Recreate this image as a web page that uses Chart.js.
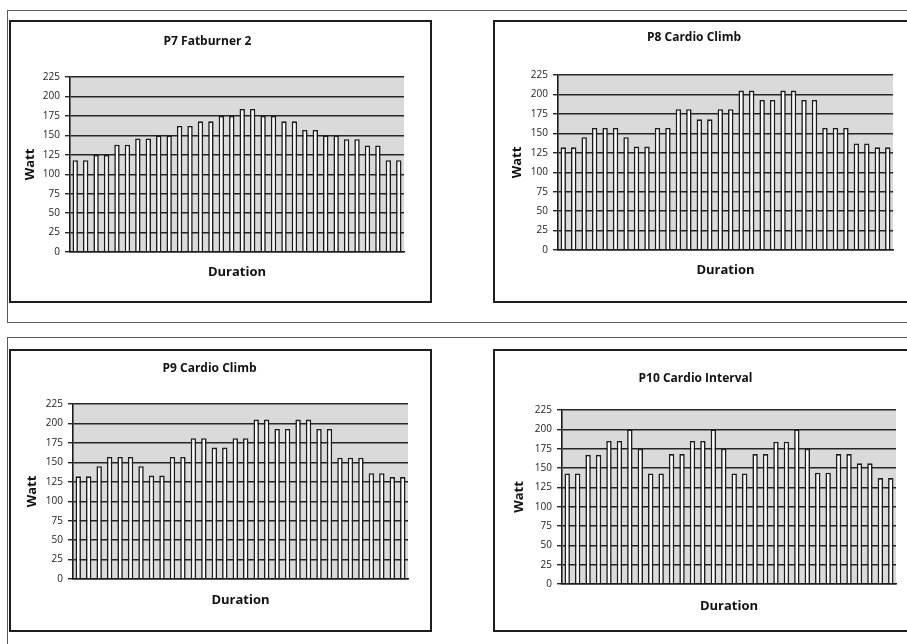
<!DOCTYPE html>
<html><head><meta charset="utf-8">
<script src="https://cdn.jsdelivr.net/npm/chart.js@4"></script>
<style>
html,body{margin:0;padding:0;background:#fff;width:907px;height:644px;overflow:hidden;}
body{position:relative;}
.frame{position:absolute;border:1px solid #5a5a5a;border-right:none;box-sizing:border-box;}
.box{position:absolute;border:2px solid #1e1e1e;box-sizing:border-box;background:#fff;}
.box canvas{position:absolute;left:0;top:0;}
</style></head><body>
<div class="frame" style="left:7px;top:10px;width:920px;height:313px"></div>
<div class="frame" style="left:7px;top:337px;width:920px;height:330px"></div>
<div class="box" style="left:9px;top:20px;width:423px;height:283px"><canvas id="c1"></canvas></div>
<div class="box" style="left:493px;top:20px;width:430px;height:283px"><canvas id="c2"></canvas></div>
<div class="box" style="left:9px;top:349px;width:423px;height:283px"><canvas id="c3"></canvas></div>
<div class="box" style="left:493px;top:349px;width:430px;height:283px"><canvas id="c4"></canvas></div>
<script>
// ---- data ----
const segments = Array.from({length: 32}, (_, i) => String(i + 1));
const wattTicks = [0, 25, 50, 75, 100, 125, 150, 175, 200, 225];
const titles = ["P7 Fatburner 2", "P8 Cardio Climb", "P9 Cardio Climb", "P10 Cardio Interval"];
const yAxisTitle = "Watt";
const xAxisTitle = "Duration";
const p7Watt = [118,118,125,125,138,138,146,146,150,150,162,162,168,168,175,175,184,184,175,175,168,168,157,157,150,150,145,145,137,137,118,118];
const p8Watt = [132,132,145,157,157,157,145,133,133,157,157,181,181,168,168,181,181,205,205,193,193,205,205,193,193,157,157,157,137,137,132,132];
const p9Watt = [132,132,145,157,157,157,145,133,133,157,157,181,181,169,169,181,181,205,205,193,193,205,205,193,193,156,156,156,136,136,131,131];
const p10Watt = [143,143,167,167,185,185,200,175,143,143,168,168,185,185,200,175,143,143,168,168,184,184,200,175,144,144,168,168,156,156,137,137];

// ---- layout (px) ----
const layouts = [
  {id:'c1', w:419, h:279, yW:59, padR:26, tTop:12.8, tBot:27.8, xH:49, xPadB:21.2, yTitlePad:11.2, values:p7Watt, title:titles[0]},
  {id:'c2', w:412, h:279, yW:63, padR:14, tTop:8.8, tBot:29.8, xH:51, xPadB:23.2, yTitlePad:14.2, values:p8Watt, title:titles[1]},
  {id:'c3', w:419, h:279, yW:62, padR:22, tTop:10.8, tBot:27.8, xH:51, xPadB:22.2, yTitlePad:13.2, values:p9Watt, title:titles[2]},
  {id:'c4', w:412, h:279, yW:67, padR:11, tTop:20.8, tBot:23.8, xH:46, xPadB:16.2, yTitlePad:16.2, values:p10Watt, title:titles[3]}
];

const FONT = "'Open Sans', 'Noto Sans', sans-serif";
const plotBg = {
  id: 'plotBg',
  beforeDraw(chart) {
    const {ctx, chartArea: a} = chart;
    ctx.save();
    ctx.fillStyle = '#dadada';
    ctx.fillRect(a.left, a.top, a.right - a.left, a.bottom - a.top);
    ctx.restore();
  }
};

layouts.forEach(L => {
  const cv = document.getElementById(L.id);
  cv.width = L.w; cv.height = L.h;
  cv.style.width = L.w + 'px'; cv.style.height = L.h + 'px';
  new Chart(cv, {
    type: 'bar',
    data: {
      labels: segments,
      datasets: [{
        data: L.values,
        backgroundColor: '#ffffff',
        borderColor: '#1c1c1c',
        borderWidth: 1.6,
        barPercentage: 0.52,
        categoryPercentage: 1.0
      }]
    },
    options: {
      responsive: false,
      animation: false,
      devicePixelRatio: 1,
      layout: {padding: {left: 0, right: L.padR, top: 0, bottom: 0}},
      plugins: {
        legend: {display: false},
        tooltip: {enabled: false},
        title: {
          display: true, text: L.title, color: '#111',
          font: {family: FONT, size: 12, weight: 'bold', lineHeight: 1.2},
          padding: {top: L.tTop, bottom: L.tBot}
        }
      },
      scales: {
        x: {
          grid: {display: false},
          border: {display: true, color: '#1c1c1c', width: 1.6},
          ticks: {display: false},
          title: {display: true, text: xAxisTitle, color: '#111',
            font: {family: FONT, size: 13, weight: 'bold', lineHeight: 1.2},
            padding: {top: 0, bottom: L.xPadB}},
          afterFit(s) { s.height = L.xH; }
        },
        y: {
          min: 0, max: 225,
          afterBuildTicks(s) { s.ticks = wattTicks.map(v => ({value: v})); },
          grid: {color: '#262626', lineWidth: 1.4, tickLength: 5, drawTicks: true},
          border: {display: true, color: '#1c1c1c', width: 1.6},
          ticks: {color: '#222', padding: 5, font: {family: FONT, size: 10}},
          title: {display: true, text: yAxisTitle, color: '#111',
            font: {family: FONT, size: 13, weight: 'bold', lineHeight: 1.2},
            padding: {top: L.yTitlePad, bottom: 0}},
          afterFit(s) { s.width = L.yW; }
        }
      }
    },
    plugins: [plotBg]
  });
});
</script>
</body></html>
